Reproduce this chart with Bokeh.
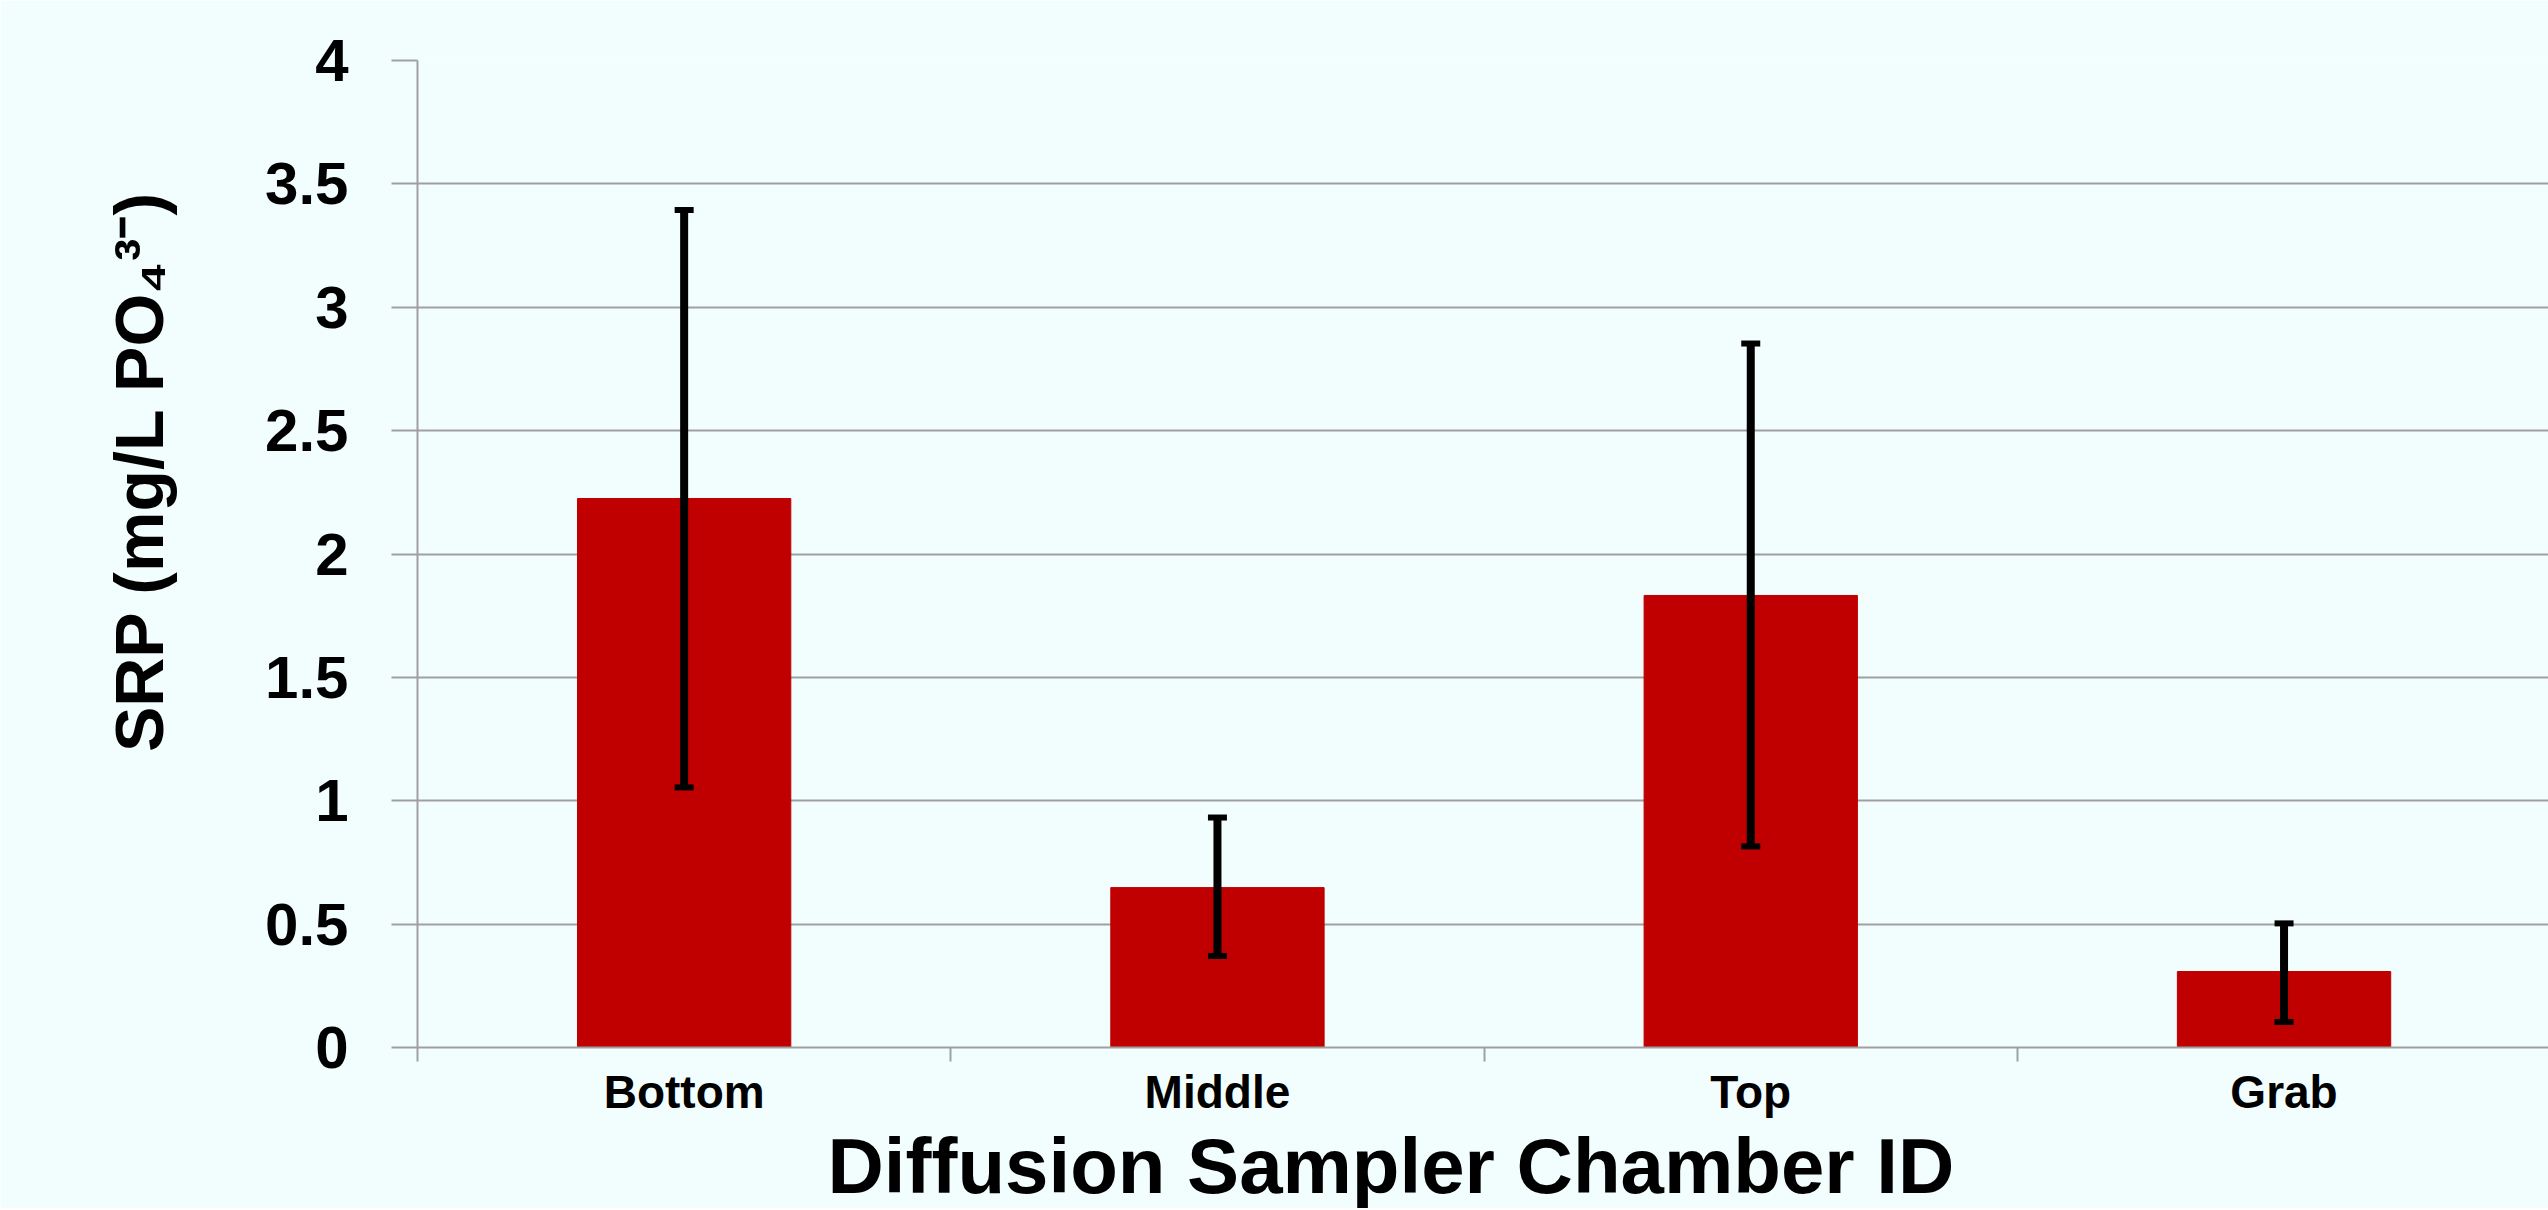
from bokeh.plotting import figure
from bokeh.models import (Range1d, FixedTicker, Whisker, TeeHead,
                          ColumnDataSource, Title)
from bokeh.embed import file_html
from bokeh.resources import INLINE

# ---------------- data ----------------
categories = ["Bottom", "Middle", "Top", "Grab"]
srp_mean = [2.225, 0.648, 1.832, 0.308]
srp_upper = [3.394, 0.932, 2.853, 0.503]
srp_lower = [1.054, 0.371, 0.815, 0.103]
y_ticks = [0, 0.5, 1, 1.5, 2, 2.5, 3, 3.5, 4]
y_tick_labels = ["0", "0.5", "1", "1.5", "2", "2.5", "3", "3.5", "4"]
x_title = "Diffusion Sampler Chamber ID"
y_title = "SRP (mg/L PO\u2084\u00b3\u207b)"

# ---------------- style / layout ----------------
BG = "#F2FDFD"
BAR = "#C00000"
GRID = "#A0A0A0"
FONT = "Liberation Sans"
W, H = 2548, 1208
LEFT, TOP, BOTTOM_PAD = 417, 60, 161
CAT_PX = 533.3
x_end = (W - LEFT) / CAT_PX

n = len(categories)
centers = [i + 0.5 for i in range(n)]
src = ColumnDataSource(dict(x=centers, top=srp_mean, upper=srp_upper,
                            lower=srp_lower, cat=categories))

p = figure(width=W, height=H, output_backend="svg", toolbar_location=None,
           x_range=Range1d(0, x_end), y_range=Range1d(0, 4),
           min_border_left=LEFT, min_border_right=0, min_border_top=TOP,
           min_border_bottom=BOTTOM_PAD, background_fill_color=BG,
           border_fill_color=BG, outline_line_color=None)

p.vbar(x="x", top="top", bottom=0, width=0.4, source=src,
       fill_color=BAR, line_color=BAR)

wh = Whisker(source=src, base="x", upper="upper", lower="lower",
             dimension="height", line_color="black", line_width=8,
             level="overlay",
             upper_head=TeeHead(size=19, line_width=6, line_color="black"),
             lower_head=TeeHead(size=19, line_width=6, line_color="black"))
p.add_layout(wh)

# x axis: labels at centres, separator ticks at boundaries
xa = p.xaxis[0]
xa.ticker = FixedTicker(ticks=centers, minor_ticks=list(range(n + 1)))
xa.major_label_overrides = {c: lab for c, lab in zip(centers, categories)}
xa.major_tick_out = 0
xa.major_tick_in = 0
xa.minor_tick_out = 14
xa.minor_tick_in = 0
xa.minor_tick_line_color = GRID
xa.minor_tick_line_width = 2
xa.axis_line_color = GRID
xa.axis_line_width = 2
xa.major_label_text_font = FONT
xa.major_label_text_font_style = "bold"
xa.major_label_text_font_size = "46px"
xa.major_label_text_color = "black"
xa.major_label_standoff = 4

# y axis
ya = p.yaxis[0]
ya.ticker = FixedTicker(ticks=y_ticks, minor_ticks=[])
ya.major_label_overrides = {t: lab for t, lab in zip(y_ticks, y_tick_labels)}
ya.major_tick_out = 26
ya.major_tick_in = 0
ya.major_tick_line_color = GRID
ya.major_tick_line_width = 2
ya.axis_line_color = GRID
ya.axis_line_width = 2
ya.major_label_text_font = FONT
ya.major_label_text_font_style = "bold"
ya.major_label_text_font_size = "60px"
ya.major_label_text_color = "black"
ya.major_label_standoff = 43

p.xgrid.grid_line_color = None
p.ygrid.grid_line_color = GRID
p.ygrid.grid_line_width = 2

# x title below the axis, shifted to the left as in the original
p.add_layout(Title(text=x_title, align="left", offset=410, standoff=-2,
                   vertical_align="bottom", text_font=FONT,
                   text_font_style="bold", text_font_size="78px",
                   text_color="black"), "below")

# y title in the left side panel, anchored near the top of the frame
p.add_layout(Title(text=y_title, align="right", offset=130, standoff=172,
                   text_font=FONT, text_font_style="bold",
                   text_font_size="68px", text_color="black"), "left")

open("out.html", "w").write(file_html(p, INLINE))
